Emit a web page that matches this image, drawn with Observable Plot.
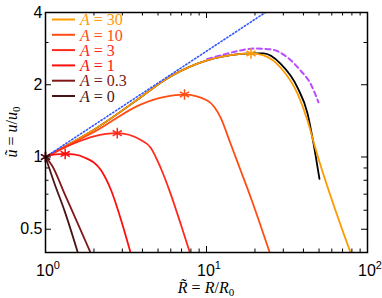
<!DOCTYPE html>
<html>
<head>
<meta charset="utf-8">
<script src="https://cdn.jsdelivr.net/npm/d3@7"></script>
<script src="https://cdn.jsdelivr.net/npm/@observablehq/plot@0.6"></script>
<style>
  html, body { margin: 0; padding: 0; background: #fff; }
</style>
</head>
<body>
<div id="chart"></div>
<script>
// ---- data ----
const seriesLabels = ["30", "10", "3", "1", "0.3", "0"];
const seriesColors = ["#ff9900", "#ff4d14", "#ff2a1e", "#ff0d0d", "#801818", "#4a1414"];

const curveA30 = [[1,1],[1.5,1.16],[2,1.30],[3.89,1.77],[5.41,2.08],[8.79,2.45],[14.1,2.66],[18.9,2.70],[22.6,2.65],[28.8,2.36],[36.7,1.84],[42.4,1.42],[47.5,1.085],[78.4,0.4]];
const curveA10 = [[1,1],[1.5,1.15],[2,1.27],[3.89,1.654],[5.5,1.78],[7.3,1.82],[10.1,1.72],[12.2,1.465],[14.1,1.138],[16.3,0.878],[18.8,0.68],[24.7,0.4]];
const curveA3 = [[1,1],[1.5,1.14],[2,1.22],[2.79,1.257],[3.89,1.18],[4.49,1.096],[5.18,0.904],[5.98,0.704],[6.9,0.528],[7.88,0.4]];
const curveA1 = [[1,1],[1.15,1.025],[1.325,1.03],[1.5,1.025],[1.747,0.995],[2.218,0.878],[2.559,0.725],[2.953,0.544],[3.373,0.4]];
const curveA03 = [[1,1],[1.1,0.92],[1.312,0.704],[1.587,0.528],[1.903,0.4]];
const curveA0 = [[1,1],[1.137,0.776],[1.312,0.598],[1.587,0.4]];
const curvesA = [curveA30, curveA10, curveA3, curveA1, curveA03, curveA0];

const curveBlack = [[1,1],[1.5,1.16],[2,1.30],[3.89,1.77],[5.41,2.08],[8.79,2.45],[14.1,2.66],[18.9,2.70],[22.6,2.70],[28.8,2.45],[36.7,1.95],[42.4,1.52],[46.2,1.14],[50.3,0.81]];
const curvePurple = [[10.1,2.56],[12.2,2.65],[15.5,2.76],[19.6,2.83],[25.0,2.81],[31.8,2.60],[38.4,2.29],[44.3,2.02],[49.6,1.69]];
const curveBlue = [[1,1],[23.2,4]];

const peakX = [18.9, 7.3, 2.79, 1.325, 1, 1];
const peakY = [2.70, 1.82, 1.257, 1.03, 1, 1];

const xMajor = [1, 10, 100];
const xTickExponents = ["0", "1", "2"];
const xMinor = [2,3,4,5,6,7,8,9,20,30,40,50,60,70,80,90];
const yMajor = [0.5, 1, 2, 4];
const yTickLabels = ["0.5", "1", "2", "4"];
const yMinor = [0.6, 0.7, 0.8, 0.9, 3];

// ---- build tables ----
const toRows = (arr) => arr.map(([x, y]) => ({x, y}));
const peaks = peakX.map((x, i) => ({x, y: peakY[i], color: seriesColors[i]}));

const W = 382, H = 298;
const mL = 45, mR = 15, mT = 12, mB = 46;
const frameH = H - mT - mB, frameW = W - mL - mR;
const serif = "'Liberation Serif', 'DejaVu Serif', serif";
const sans = "'Liberation Sans', Arial, sans-serif";

function legendMark(index, scales, values, dims) {
  const g = d3.create("svg:g").attr("text-anchor", "start");
  seriesLabels.forEach((lab, i) => {
    const y = dims.marginTop + 7.5 + i * 15.3;
    g.append("line")
      .attr("x1", dims.marginLeft + 7).attr("x2", dims.marginLeft + 30)
      .attr("y1", y).attr("y2", y)
      .attr("stroke", seriesColors[i]).attr("stroke-width", 2);
    const t = g.append("text")
      .attr("x", dims.marginLeft + 35).attr("y", y).attr("dy", "0.36em")
      .attr("fill", seriesColors[i]).attr("font-family", serif).attr("font-size", 16);
    t.append("tspan").attr("font-style", "italic").text("A");
    t.append("tspan").text(" = " + lab);
  });
  return g.node();
}

function xTickLabelsMark(index, scales, values, dims) {
  const g = d3.create("svg:g").attr("font-family", sans).attr("font-size", 16).attr("fill", "black").attr("text-anchor", "start");
  xMajor.forEach((v, i) => {
    const px = scales.x(v);
    const t = g.append("text").attr("x", px - 9).attr("y", dims.height - dims.marginBottom + 24);
    t.append("tspan").text("10");
    t.append("tspan").attr("font-size", 11).attr("dy", -7).text(xTickExponents[i]);
  });
  return g.node();
}

function axisLabelsMark(index, scales, values, dims) {
  const g = d3.create("svg:g").attr("font-family", serif).attr("font-size", 16).attr("fill", "black");
  const cx = dims.marginLeft + (dims.width - dims.marginLeft - dims.marginRight) / 2;
  const xl = g.append("text").attr("x", cx).attr("y", dims.height - 5).attr("text-anchor", "middle");
  xl.append("tspan").attr("font-style", "italic").text("R\u0303");
  xl.append("tspan").text(" = ");
  xl.append("tspan").attr("font-style", "italic").text("R");
  xl.append("tspan").text("/");
  xl.append("tspan").attr("font-style", "italic").text("R");
  xl.append("tspan").attr("font-size", 11).attr("dy", 3).text("0");
  const cy = dims.marginTop + (dims.height - dims.marginTop - dims.marginBottom) / 2;
  const yl = g.append("text").attr("transform", `translate(17,${cy}) rotate(-90)`).attr("text-anchor", "middle");
  yl.append("tspan").attr("font-style", "italic").text("u\u0303");
  yl.append("tspan").text(" = ");
  yl.append("tspan").attr("font-style", "italic").text("u");
  yl.append("tspan").text("/");
  yl.append("tspan").attr("font-style", "italic").text("u");
  yl.append("tspan").attr("font-size", 11).attr("dy", 3).text("0");
  return g.node();
}

const lineOpts = (color) => ({x: "x", y: "y", stroke: color, strokeWidth: 1.8, curve: "monotone-x", clip: true});

const chart = Plot.plot({
  width: W, height: H,
  marginLeft: mL, marginRight: mR, marginTop: mT, marginBottom: mB,
  style: {fontFamily: sans, fontSize: "16px", background: "white"},
  x: {type: "log", domain: [1, 100], axis: null},
  y: {type: "log", domain: [0.4, 4], axis: null},
  marks: [
    Plot.line(toRows(curveBlack), lineOpts("black")),
    Plot.line(toRows(curvePurple), {x: "x", y: "y", stroke: "#b84dff", strokeWidth: 2, strokeDasharray: "5,3.5", curve: "monotone-x", clip: true}),
    ...curvesA.map((c, i) => Plot.line(toRows(c), lineOpts(seriesColors[i]))),
    Plot.line(toRows(curveBlue), {x: "x", y: "y", stroke: "#3355ff", strokeWidth: 1.6, strokeDasharray: "1.3,2.2", clip: true}),
    Plot.dot(peaks, {x: "x", y: "y", stroke: "color", symbol: "asterisk", r: 5, strokeWidth: 1.5}),
    // inward ticks, bottom / top
    Plot.tickX(xMajor, {x: d => d, insetTop: frameH - 6, stroke: "black"}),
    Plot.tickX(xMajor, {x: d => d, insetBottom: frameH - 6, stroke: "black"}),
    Plot.tickX(xMinor, {x: d => d, insetTop: frameH - 3.5, stroke: "black"}),
    Plot.tickX(xMinor, {x: d => d, insetBottom: frameH - 3.5, stroke: "black"}),
    // inward ticks, left / right
    Plot.tickY(yMajor, {y: d => d, insetRight: frameW - 6, stroke: "black"}),
    Plot.tickY(yMajor, {y: d => d, insetLeft: frameW - 6, stroke: "black"}),
    Plot.tickY(yMinor, {y: d => d, insetRight: frameW - 3.5, stroke: "black"}),
    Plot.tickY(yMinor, {y: d => d, insetLeft: frameW - 3.5, stroke: "black"}),
    Plot.frame({stroke: "black", strokeWidth: 1.5}),
    Plot.axisY({anchor: "left", ticks: yMajor, tickSize: 0, tickPadding: 3, tickFormat: d => yTickLabels[yMajor.indexOf(d)], label: null, fontSize: 16}),
    xTickLabelsMark,
    legendMark,
    axisLabelsMark
  ]
});
document.getElementById("chart").appendChild(chart);
</script>
</body>
</html>
